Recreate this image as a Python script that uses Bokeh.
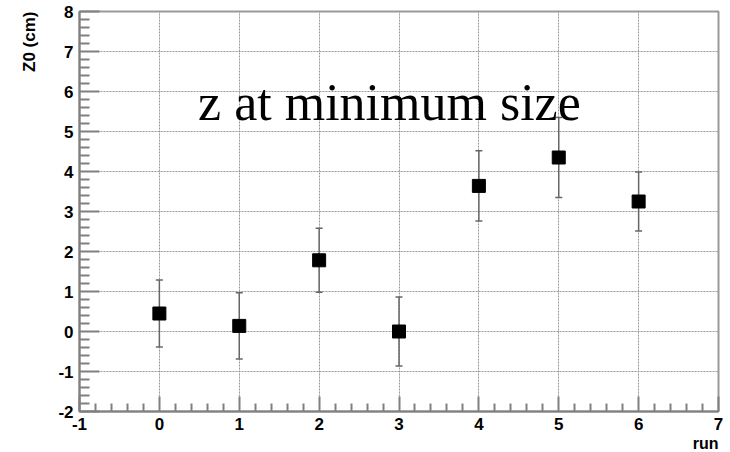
from bokeh.plotting import figure
from bokeh.models import (ColumnDataSource, Whisker, TeeHead, FixedTicker,
                          Label, Range1d, Title)
from bokeh.embed import file_html
from bokeh.resources import INLINE

# Z0 per run with its uncertainty
run = [0, 1, 2, 3, 4, 5, 6]
z0 = [0.45, 0.14, 1.78, 0.0, 3.64, 4.35, 3.25]
z0_err = [0.84, 0.83, 0.80, 0.86, 0.88, 1.0, 0.74]

x_ticks = [-1, 0, 1, 2, 3, 4, 5, 6, 7]
y_ticks = [-2, -1, 0, 1, 2, 3, 4, 5, 6, 7, 8]

src = ColumnDataSource(dict(
    run=run, z0=z0,
    lo=[v - e for v, e in zip(z0, z0_err)],
    hi=[v + e for v, e in zip(z0, z0_err)],
))

p = figure(width=730, height=452, output_backend="svg", toolbar_location=None,
           x_range=Range1d(-1, 7), y_range=Range1d(-2, 8),
           min_border_left=79, min_border_right=12,
           min_border_top=11, min_border_bottom=41,
           background_fill_color="white", border_fill_color="white")

p.outline_line_color = "#999999"
p.outline_line_width = 2

# axes: ROOT style, ticks pointing inward, plain hyphen minus signs
for ax, ticks in ((p.xaxis[0], x_ticks), (p.yaxis[0], y_ticks)):
    ax.ticker = FixedTicker(
        ticks=ticks,
        minor_ticks=[t + k * 0.2 for t in ticks[:-1] for k in range(1, 5)])
    ax.major_label_overrides = {t: str(t) for t in ticks}
    ax.axis_line_color = "#808080"
    ax.axis_line_width = 2
    ax.major_tick_out = 0
    ax.minor_tick_out = 0
    ax.major_tick_line_color = "#808080"
    ax.minor_tick_line_color = "#808080"
    ax.major_tick_line_width = 2
    ax.minor_tick_line_width = 2
    ax.major_label_text_font = "Liberation Sans"
    ax.major_label_text_font_style = "bold"
    ax.major_label_text_font_size = "17px"
    ax.major_label_text_color = "black"

p.xaxis[0].major_tick_in = 15
p.xaxis[0].minor_tick_in = 8
p.xaxis[0].major_label_standoff = 6
p.yaxis[0].major_tick_in = 20
p.yaxis[0].minor_tick_in = 10
p.yaxis[0].major_label_standoff = 6

# axis titles, pushed to the far ends of their axes
p.add_layout(Title(text="run", align="right", standoff=0,
                   text_font="Liberation Sans", text_font_style="bold",
                   text_font_size="16px", text_color="black"), "below")
p.add_layout(Title(text="Z0 (cm)", align="right", standoff=33,
                   text_font="Liberation Sans", text_font_style="bold",
                   text_font_size="17px", text_color="black"), "left")

# dotted grid at the integer ticks only
p.xgrid.ticker = FixedTicker(ticks=x_ticks[1:-1])
p.ygrid.ticker = FixedTicker(ticks=y_ticks[1:-1])
for g in (p.xgrid[0], p.ygrid[0]):
    g.grid_line_color = "#999999"
    g.grid_line_dash = "2 1"
    g.grid_line_width = 1

# error bars and markers
p.add_layout(Whisker(source=src, base="run", lower="lo", upper="hi",
                     line_color="#666666", line_width=1.5,
                     upper_head=TeeHead(size=7, line_color="#666666", line_width=1.5),
                     lower_head=TeeHead(size=7, line_color="#666666", line_width=1.5)))
p.scatter("run", "z0", source=src, marker="square", size=13,
          fill_color="black", line_color="black")

# in-plot title
p.add_layout(Label(x=2.88, y=5.73, text="z at minimum size",
                   text_font="Liberation Serif", text_font_size="52px",
                   text_color="black", text_align="center",
                   text_baseline="alphabetic"))

open("out.html", "w").write(file_html(p, INLINE))
